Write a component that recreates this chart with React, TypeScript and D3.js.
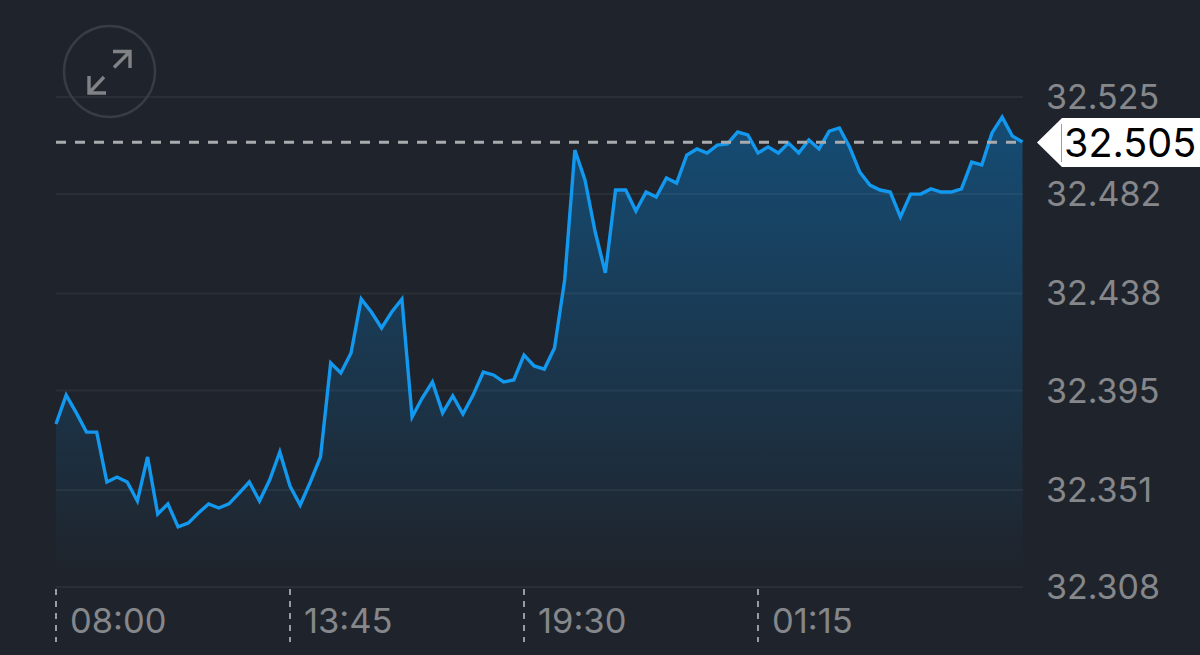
import * as d3 from "d3";
import {useEffect, useRef} from "react";

const prices = [
    32.3802, 32.3930, 32.3851, 32.3766, 32.3766, 32.3545, 32.3567, 32.3545, 32.3461, 32.3656,
    32.3403, 32.3448, 32.3346, 32.3363, 32.3408, 32.3448, 32.3430, 32.3448, 32.3496, 32.3545,
    32.3461, 32.3554, 32.3678, 32.3527, 32.3443, 32.3545, 32.3656, 32.4072, 32.4028, 32.4116,
    32.4355, 32.4298, 32.4227, 32.4298, 32.4355, 32.3833, 32.3917, 32.3988, 32.3851, 32.3926,
    32.3846, 32.3930, 32.4032, 32.4019, 32.3988, 32.3997, 32.4107, 32.4059, 32.4045, 32.4138,
    32.4440, 32.5015, 32.4882, 32.4652, 32.4471, 32.4838, 32.4838, 32.4745, 32.4829, 32.4807,
    32.4891, 32.4869, 32.4993, 32.5020, 32.5002, 32.5037, 32.5042, 32.5095, 32.5082, 32.5002,
    32.5029, 32.5002, 32.5046, 32.5002, 32.5060, 32.5020, 32.5099, 32.5113, 32.5029, 32.4918,
    32.4860, 32.4838, 32.4829, 32.4719, 32.4820, 32.4820, 32.4843, 32.4829, 32.4829, 32.4843,
    32.4962, 32.4949, 32.5091, 32.5161, 32.5077, 32.5051,
];
const priceTicks = [32.525, 32.482, 32.438, 32.395, 32.351, 32.308];
const timeLabels = ["08:00", "13:45", "19:30", "01:15"];
const timeIndexes = [0, 23, 46, 69];
const lastPrice = 32.505;

const WIDTH = 1200;
const HEIGHT = 655;
const FONT = "Inter, Roboto, sans-serif";

const App = () => {
    const ref = useRef<SVGSVGElement>(null);

    useEffect(() => {
        const svg = d3.select(ref.current);
        svg.selectAll("*").remove();

        const x = d3.scaleLinear().domain([0, prices.length - 1]).range([56, 1022.5]);
        const y = d3.scaleLinear().domain([32.308, 32.525]).range([587, 97]);

        svg.append("rect")
            .attr("width", WIDTH)
            .attr("height", HEIGHT)
            .attr("fill", "#1f242c");

        const grad = svg.append("defs").append("linearGradient")
            .attr("id", "areaFill")
            .attr("gradientUnits", "userSpaceOnUse")
            .attr("x1", 0).attr("x2", 0)
            .attr("y1", 120).attr("y2", 570);
        grad.append("stop").attr("offset", 0).attr("stop-color", "#154c74");
        grad.append("stop").attr("offset", 1).attr("stop-color", "#1f242c");

        const area = d3.area<number>()
            .x((d, i) => x(i))
            .y0(y(32.308))
            .y1(d => y(d));
        svg.append("path")
            .attr("d", area(prices))
            .attr("fill", "url(#areaFill)");

        // grid shows faintly through the fill
        svg.selectAll("line.grid")
            .data(priceTicks)
            .enter()
            .append("line")
            .attr("class", "grid")
            .attr("x1", 56)
            .attr("x2", 1023)
            .attr("y1", d => y(d))
            .attr("y2", d => y(d))
            .attr("stroke", "#ffffff")
            .attr("stroke-opacity", 0.05)
            .attr("stroke-width", 2);

        const line = d3.line<number>()
            .x((d, i) => x(i))
            .y(d => y(d));
        svg.append("path")
            .attr("d", line(prices))
            .attr("fill", "none")
            .attr("stroke", "#1298ee")
            .attr("stroke-width", 3.4)
            .attr("stroke-linejoin", "miter");

        // last price line
        svg.append("line")
            .attr("x1", 56)
            .attr("x2", 1023)
            .attr("y1", y(lastPrice))
            .attr("y2", y(lastPrice))
            .attr("stroke", "#a9abaf")
            .attr("stroke-width", 3)
            .attr("stroke-dasharray", "10 9");

        // price labels
        svg.selectAll("text.price")
            .data(priceTicks)
            .enter()
            .append("text")
            .attr("class", "price")
            .attr("x", 1046)
            .attr("y", d => y(d) + 12)
            .attr("font-family", FONT)
            .attr("font-size", 34)
            .attr("fill", "#85878b")
            .text(d => d3.format(".3f")(d));

        // time ticks
        const times = svg.selectAll("g.time")
            .data(timeLabels)
            .enter()
            .append("g")
            .attr("class", "time")
            .attr("transform", (d, i) => `translate(${x(timeIndexes[i])},0)`);
        times.append("line")
            .attr("y1", 589)
            .attr("y2", 642)
            .attr("stroke", "#9a9ca0")
            .attr("stroke-width", 2)
            .attr("stroke-dasharray", "6 6");
        times.append("text")
            .attr("x", 14)
            .attr("y", 633)
            .attr("font-family", FONT)
            .attr("font-size", 34.5)
            .attr("fill", "#85878b")
            .text(d => d);

        // last price tag
        svg.append("path")
            .attr("d", "M1037,142.5L1062,118H1200V167H1062Z")
            .attr("fill", "#ffffff");
        svg.append("line")
            .attr("x1", 1061.5)
            .attr("x2", 1061.5)
            .attr("y1", 124)
            .attr("y2", 162)
            .attr("stroke", "#9a9ca0");
        svg.append("text")
            .attr("x", 1064)
            .attr("y", y(lastPrice) + 15)
            .attr("font-family", FONT)
            .attr("font-size", 39.5)
            .attr("fill", "#000000")
            .text(d3.format(".3f")(lastPrice));

        // expand button
        const icon = svg.append("g").attr("fill", "none");
        icon.append("circle")
            .attr("cx", 109.5)
            .attr("cy", 71.5)
            .attr("r", 45.5)
            .attr("stroke", "#383c43")
            .attr("stroke-width", 2.4);
        icon.append("path")
            .attr("d", "M113,51.5H130V68M130,51.5L114,67.5M89,76V93H106M89,93L104,77")
            .attr("stroke", "#808285")
            .attr("stroke-width", 3.4);
    }, []);

    return (
        <svg
            ref={ref}
            width={WIDTH}
            height={HEIGHT}
            style={{position: "absolute", left: 0, top: 0, display: "block"}}>
        </svg>
    );
};

export default App;
